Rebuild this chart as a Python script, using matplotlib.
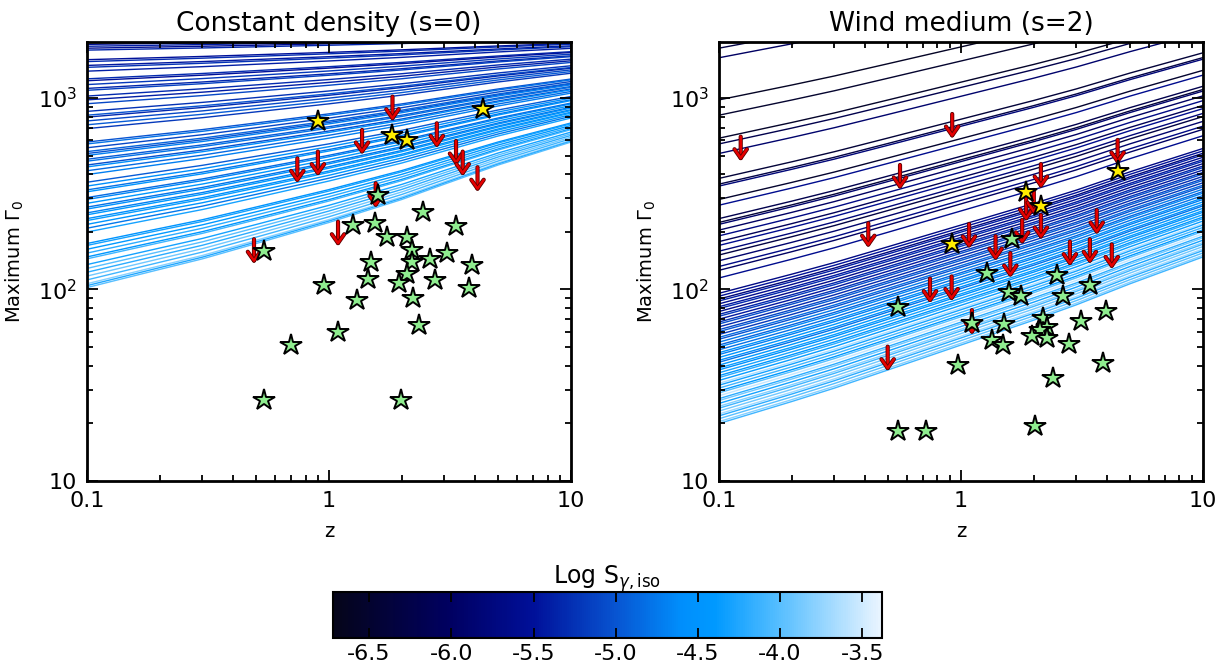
import numpy as np
import matplotlib
matplotlib.use("Agg")
import matplotlib.pyplot as plt
import matplotlib.patheffects as pe
from matplotlib.colors import LinearSegmentedColormap, Normalize
from matplotlib.cm import ScalarMappable
from matplotlib.ticker import LogLocator, NullFormatter, FormatStrFormatter
from matplotlib.transforms import ScaledTranslation

# redshift grid and log-rise of the faintest-limit curve in each medium
z_knots = [0.1, 0.2, 0.3, 0.5, 1.0, 2.0, 3.0, 5.0, 10.0]
rise_s0 = [0.0, 0.095, 0.15, 0.23, 0.34, 0.46, 0.54, 0.64, 0.76]
rise_s2 = [0.0, 0.115, 0.185, 0.28, 0.41, 0.54, 0.62, 0.73, 0.87]
# curves converge towards this log(Gamma) level
pivot_s0 = 3.35
pivot_s2 = 6.5

# log10 of maximum Gamma0 at z=0.1, one per burst, and its log fluence
log_g0_s0 = [3.28, 3.27, 3.26, 3.25,
             3.20, 3.19, 3.17, 3.16, 3.14,
             3.10, 3.09, 3.07, 3.05, 3.04,
             3.01, 2.99, 2.97,
             2.93, 2.91, 2.90, 2.88, 2.86, 2.84,
             2.77, 2.76,
             2.74, 2.72, 2.71, 2.70, 2.68, 2.67, 2.65, 2.64, 2.62, 2.60,
             2.56, 2.54, 2.52, 2.51, 2.48, 2.47, 2.45, 2.43, 2.42,
             2.40, 2.39, 2.37, 2.36, 2.34, 2.32, 2.30,
             2.24, 2.23, 2.21, 2.19, 2.17, 2.16, 2.13, 2.11,
             2.09, 2.07, 2.05, 2.03, 2.02, 2.01]
logS_s0 = [-5.55, -5.4, -5.6, -5.35,
           -5.5, -5.3, -5.45, -5.25, -5.4,
           -5.3, -5.5, -5.2, -5.35, -5.15,
           -5.3, -5.4, -5.1,
           -5.25, -5.0, -5.3, -5.1, -4.95, -5.2,
           -5.0, -4.8,
           -5.1, -4.9, -5.0, -4.7, -4.95, -4.8, -5.05, -4.6, -4.85, -4.7,
           -4.95, -4.6, -4.8, -4.5, -4.85, -4.65, -4.45, -4.8, -4.55,
           -4.7, -4.4, -4.6, -4.35, -4.5, -4.75, -4.3,
           -4.5, -4.3, -4.4, -4.2, -4.45, -4.1, -4.3, -4.0,
           -4.2, -3.9, -4.1, -3.8, -4.25, -4.0]

log_g0_s2 = [3.26, 3.21, 2.99, 2.91, 2.79, 2.76, 2.71, 2.58, 2.55, 2.54,
             2.47, 2.44, 2.37, 2.35, 2.34, 2.31, 2.28, 2.25, 2.23, 2.20,
             2.18, 2.15, 2.12, 2.10, 2.06,
             1.98, 1.965, 1.95, 1.94, 1.925, 1.91, 1.90, 1.885, 1.87, 1.86,
             1.845, 1.83, 1.82, 1.805, 1.79, 1.78, 1.765, 1.75, 1.74, 1.725,
             1.71, 1.70, 1.685, 1.67, 1.66, 1.645, 1.63, 1.62, 1.605, 1.59,
             1.58, 1.565, 1.55, 1.54, 1.525, 1.51, 1.50, 1.485, 1.47, 1.46,
             1.445, 1.43, 1.42, 1.405, 1.39, 1.38, 1.365, 1.35, 1.34, 1.325,
             1.31, 1.30]
logS_s2 = [-6.3, -6.0, -6.6, -6.5, -6.55, -6.2, -5.9, -6.4, -6.3, -5.8,
           -6.5, -5.6, -6.2, -6.4, -5.9, -6.0, -5.7, -6.1, -5.6, -5.8,
           -6.3, -5.9, -5.7, -6.0, -5.6,
           -5.7, -5.5, -5.8, -5.4, -5.6, -5.45, -5.3, -5.65, -5.35, -5.2,
           -5.45, -5.25, -5.05, -5.3, -5.1, -4.95, -5.2, -4.85, -5.0, -4.75,
           -4.9, -4.65, -4.8, -4.55, -4.7, -4.45, -4.6, -4.8, -4.45, -4.35,
           -4.55, -4.3, -4.45, -4.2, -4.35, -3.65, -4.3, -4.1, -4.4, -4.0,
           -3.55, -4.2, -3.9, -4.3, -3.8, -4.1, -3.9, -3.7, -4.2, -4.0,
           -3.8, -4.1]

# bursts with measured Gamma0 (green), lower-limit cases (yellow), upper limits (arrows)
green_z_s0 = [1.60, 2.45, 1.26, 1.55, 3.35, 1.73, 2.11, 2.20, 0.54, 3.08, 2.61, 1.49, 2.20, 3.91,
              2.11, 1.45, 1.95, 2.74, 0.95, 3.79, 2.22, 1.31, 2.35, 1.09, 0.70, 0.54, 1.99]
green_g_s0 = [311, 255, 217, 223, 215, 187, 189, 160, 159, 155, 144, 139, 139, 134,
              120, 114, 108, 112, 106, 102, 90, 88, 65, 60, 51, 26.5, 26.5]
yellow_z_s0 = [0.90, 1.82, 2.11, 4.34]
yellow_g_s0 = [761, 641, 604, 873]
ul_z_s0 = [1.83, 2.79, 1.37, 0.90, 0.74, 3.35, 3.57, 4.11, 1.56, 1.09, 0.49]
ul_g_s0 = [1016, 738, 681, 525, 484, 596, 525, 435, 359, 226, 183]

green_z_s2 = [0.55, 1.28, 1.63, 2.50, 3.41, 1.58, 1.77, 2.65, 3.97, 1.11, 1.51, 3.13, 2.18,
              2.26, 2.12, 2.26, 1.96, 1.34, 1.49, 2.80, 0.97, 3.85, 2.39, 0.55, 0.72, 2.02]
green_g_s2 = [80.7, 121.5, 183, 119, 105, 97, 93, 93, 77.5, 66.6, 65.8, 68.3, 70.7,
              63.9, 61.5, 55.6, 57.1, 54.5, 51.3, 51.7, 40.3, 41.5, 34.4, 18.3, 18.3, 19.4]
yellow_z_s2 = [1.86, 2.15, 0.92, 4.44]
yellow_g_s2 = [324, 273, 173, 416]
ul_z_s2 = [0.123, 0.92, 0.56, 2.14, 4.44, 0.414, 1.08, 1.39, 1.79, 2.14, 3.64,
           1.60, 2.82, 3.41, 4.20, 0.745, 0.915, 1.11, 1.86, 2.00, 0.498]
ul_g_s2 = [628, 825, 447, 452, 604, 222, 220, 190, 231, 245, 260,
           155, 178, 183, 172, 114, 117, 78, 305, 331, 50.3]

# IDL-like blue colour table
cmap = LinearSegmentedColormap.from_list("blues_idl", [
    (0.000, (0.02, 0.02, 0.10)),
    (0.212, (0.00, 0.00, 0.38)),
    (0.364, (0.00, 0.06, 0.60)),
    (0.515, (0.03, 0.33, 0.82)),
    (0.636, (0.00, 0.56, 0.99)),
    (0.697, (0.00, 0.60, 1.00)),
    (0.818, (0.35, 0.75, 1.00)),
    (1.000, (0.92, 0.96, 1.00)),
])
norm = Normalize(vmin=-6.72, vmax=-3.38)

fig = plt.figure(figsize=(12.25, 6.7), dpi=100)
ax0 = fig.add_axes([0.0710, 0.2821, 0.3951, 0.6552])
ax1 = fig.add_axes([0.5869, 0.2821, 0.3951, 0.6552])


def draw_panel(ax, title, log_g0, logS, rise, pivot, gz, gg, yz, yg, uz, ug):
    rise = np.array(rise)
    low = min(log_g0)
    for L, s in zip(log_g0, logS):
        w = (pivot - L) / (pivot - low)
        ax.plot(z_knots, 10 ** (L + rise * w), color=cmap(norm(s)), lw=1.0, zorder=1)

    # upper limits: arrow starts at the value and points down
    shift = ax.transData + ScaledTranslation(0, -17 / 72, fig.dpi_scale_trans)
    for z, g in zip(uz, ug):
        ann = ax.annotate("", xy=(z, g), xycoords=shift, xytext=(z, g), textcoords="data",
                          arrowprops=dict(arrowstyle="->,head_length=0.4,head_width=0.28",
                                          color=(0.9, 0.0, 0.0), lw=1.8, shrinkA=0, shrinkB=0,
                                          mutation_scale=16),
                          zorder=3)
        ann.arrow_patch.set_path_effects([pe.Stroke(linewidth=3.0, foreground="#5a0000"),
                                          pe.Normal()])

    ax.plot(gz, gg, ls="none", marker="*", ms=16, mfc=(0.56, 0.93, 0.56), mec="k",
            mew=1.4, zorder=4)
    ax.plot(yz, yg, ls="none", marker="*", ms=16, mfc="#ffee00", mec="k", mew=1.4, zorder=4)

    ax.set_xscale("log")
    ax.set_yscale("log")
    ax.set_xlim(0.1, 10)
    ax.set_ylim(10, 1960)
    ax.set_xticks([0.1, 1, 10], ["0.1", "1", "10"])
    ax.set_yticks([10, 100, 1000], ["10", r"10$^2$", r"10$^3$"])
    ax.xaxis.set_minor_locator(LogLocator(base=10, subs=range(2, 10)))
    ax.yaxis.set_minor_locator(LogLocator(base=10, subs=range(2, 10)))
    ax.xaxis.set_minor_formatter(NullFormatter())
    ax.yaxis.set_minor_formatter(NullFormatter())
    ax.tick_params(which="both", direction="in", top=True, right=True, width=1.3,
                   labelsize=16, pad=7)
    ax.tick_params(which="major", length=8)
    ax.tick_params(which="minor", length=4.5)
    for sp in ax.spines.values():
        sp.set_linewidth(2)
    ax.set_title(title, fontsize=19, pad=8)
    ax.set_xlabel("z", fontsize=14, labelpad=8)
    ax.set_ylabel(r"Maximum $\Gamma_0$", fontsize=14, labelpad=9)


draw_panel(ax0, "Constant density (s=0)", log_g0_s0, logS_s0, rise_s0, pivot_s0,
           green_z_s0, green_g_s0, yellow_z_s0, yellow_g_s0, ul_z_s0, ul_g_s0)
draw_panel(ax1, "Wind medium (s=2)", log_g0_s2, logS_s2, rise_s2, pivot_s2,
           green_z_s2, green_g_s2, yellow_z_s2, yellow_g_s2, ul_z_s2, ul_g_s2)

cax = fig.add_axes([0.2718, 0.0478, 0.4482, 0.0687])
cb = fig.colorbar(ScalarMappable(norm=norm, cmap=cmap), cax=cax, orientation="horizontal",
                  ticks=[-6.5, -6.0, -5.5, -5.0, -4.5, -4.0, -3.5])
cb.ax.xaxis.set_major_formatter(FormatStrFormatter("%.1f"))
cb.ax.tick_params(direction="in", length=7, width=1.3, top=True, bottom=True,
                  labelsize=16, pad=4)
cb.outline.set_linewidth(1.5)
cax.set_title(r"Log S$_{\gamma,\rm iso}$", fontsize=17, pad=6)

fig.savefig("out.png", dpi=100)
